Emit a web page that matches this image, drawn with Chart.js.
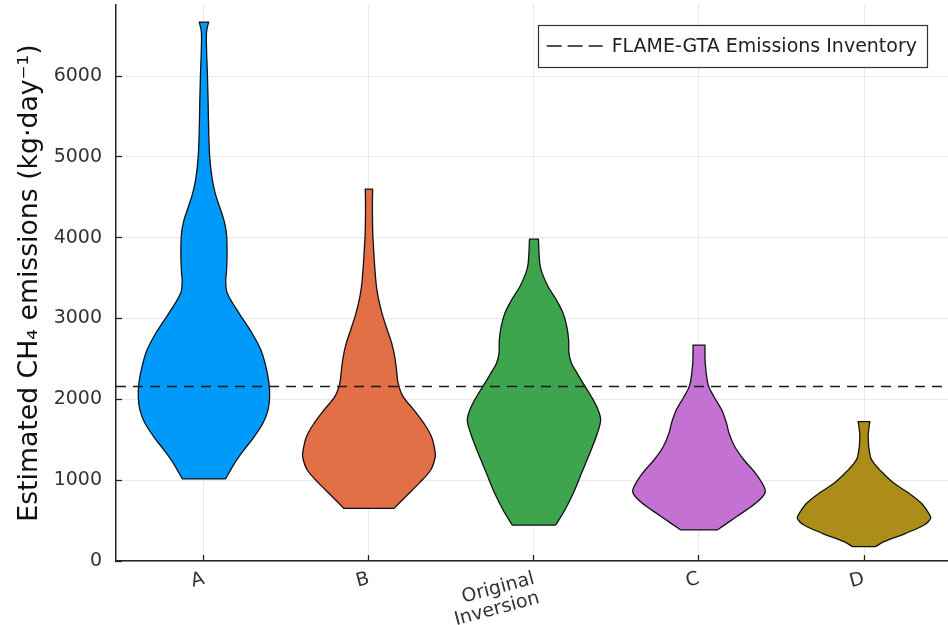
<!DOCTYPE html>
<html>
<head>
<meta charset="utf-8">
<script src="https://cdn.jsdelivr.net/npm/chart.js@4.4.0/dist/chart.umd.min.js"></script>
<style>
  html, body { margin: 0; padding: 0; background: #fff; }
  #wrap { width: 948px; height: 625px; }
</style>
</head>
<body>
<div id="wrap"><canvas id="chart" width="948" height="625"></canvas></div>
<script>
// categories along x, one violin each
const categories = ['A', 'B', ['Original', 'Inversion'], 'C', 'D'];
const colors = ['#009AFA', '#E36F47', '#3EA44E', '#C371D2', '#AC8D18'];
const yTicks = [0, 1000, 2000, 3000, 4000, 5000, 6000];
const inventoryLabel = 'FLAME-GTA Emissions Inventory';
const inventoryValue = 2160;

// violin outlines: emission level (kg/day) and half width of the density at that level
const levelsA = [1015, 1212, 1373, 1534, 1707, 1868, 2029, 2202, 2400, 2610, 2821, 3068, 3316, 3476, 3563, 3811, 4058, 4219, 4380, 4553, 4751, 4998, 5295, 5703, 6013, 6532, 6668];
const widthsA = [0.131, 0.186, 0.242, 0.303, 0.358, 0.388, 0.398, 0.394, 0.376, 0.345, 0.291, 0.212, 0.141, 0.132, 0.136, 0.140, 0.136, 0.121, 0.095, 0.068, 0.048, 0.035, 0.029, 0.025, 0.021, 0.015, 0.028];
const levelsB = [651, 796, 961, 1126, 1290, 1373, 1538, 1703, 1868, 2033, 2198, 2363, 2528, 2693, 2858, 3064, 3270, 3476, 4010, 4343, 4602];
const widthsB = [0.152, 0.222, 0.303, 0.374, 0.402, 0.399, 0.379, 0.333, 0.273, 0.207, 0.177, 0.167, 0.156, 0.138, 0.111, 0.079, 0.055, 0.041, 0.024, 0.021, 0.022];
const levelsOrig = [445, 631, 838, 1085, 1332, 1580, 1744, 1868, 2033, 2198, 2322, 2446, 2569, 2734, 2899, 3064, 3229, 3394, 3559, 3683, 3984];
const widthsOrig = [0.132, 0.187, 0.238, 0.288, 0.338, 0.384, 0.404, 0.389, 0.348, 0.298, 0.262, 0.227, 0.212, 0.210, 0.199, 0.177, 0.136, 0.086, 0.050, 0.035, 0.027];
const levelsC = [384, 548, 714, 837, 919, 1085, 1250, 1414, 1580, 1703, 1868, 2033, 2177, 2446, 2672];
const widthsC = [0.111, 0.227, 0.343, 0.399, 0.394, 0.343, 0.273, 0.217, 0.182, 0.167, 0.138, 0.091, 0.056, 0.038, 0.036];
const levelsD = [177, 239, 343, 445, 528, 590, 714, 838, 961, 1085, 1208, 1290, 1538, 1724];
const widthsD = [0.069, 0.121, 0.253, 0.364, 0.404, 0.392, 0.348, 0.273, 0.182, 0.116, 0.061, 0.038, 0.025, 0.035];

const allLevels = [levelsA, levelsB, levelsOrig, levelsC, levelsD];
const allWidths = [widthsA, widthsB, widthsOrig, widthsC, widthsD];

const xMin = 0.467, xMax = 5.509;

Chart.defaults.font.family = '"DejaVu Sans", sans-serif';

// closed outline: right side going up, left side coming down.
// end levels are listed twice so the flat caps keep sharp corners
function violinPoints(pos, levels, widths) {
    const n = levels.length;
    const right = [], left = [];
    for (let i = 0; i < n; i++) {
        const reps = (i === 0 || i === n - 1) ? 2 : 1;
        for (let r = 0; r < reps; r++) {
            right.push({ x: pos + widths[i], y: levels[i] });
            left.push({ x: pos - widths[i], y: levels[i] });
        }
    }
    const pts = right.concat(left.reverse());
    pts.push(pts[0]);
    return pts;
}

const datasets = [{
    label: inventoryLabel,
    data: [{ x: xMin, y: inventoryValue }, { x: xMax, y: inventoryValue }],
    showLine: true,
    borderColor: '#1a1a1a',
    borderWidth: 1.6,
    borderDash: [10, 7],
    pointRadius: 0,
    fill: false
}];
categories.forEach((c, i) => {
    datasets.push({
        label: Array.isArray(c) ? c.join(' ') : c,
        data: violinPoints(i + 1, allLevels[i], allWidths[i]),
        showLine: true,
        tension: 0.35,
        backgroundColor: colors[i],
        borderColor: '#111',
        borderWidth: 1.3,
        pointRadius: 0,
        fill: 'shape'
    });
});

const insideLegend = {
    id: 'insideLegend',
    afterDraw(chart) {
        const ds = chart.data.datasets[0];
        const ctx = chart.ctx;
        const area = chart.chartArea;
        ctx.save();
        ctx.font = '19px "DejaVu Sans"';
        const textW = ctx.measureText(ds.label).width;
        const h = 42, sample = 56, gap = 9, padL = 9, padR = 10;
        const w = padL + sample + gap + textW + padR;
        const right = area.right - 21;
        const top = area.top + 20;
        const left = right - w;
        ctx.fillStyle = '#fff';
        ctx.fillRect(left, top, w, h);
        ctx.strokeStyle = '#333';
        ctx.lineWidth = 1.2;
        ctx.strokeRect(Math.round(left) + 0.5, top + 0.5, Math.round(w), h);
        ctx.setLineDash([15, 6]);
        ctx.strokeStyle = ds.borderColor;
        ctx.lineWidth = ds.borderWidth;
        ctx.beginPath();
        ctx.moveTo(left + padL, top + h / 2);
        ctx.lineTo(left + padL + sample, top + h / 2);
        ctx.stroke();
        ctx.setLineDash([]);
        ctx.fillStyle = '#222';
        ctx.textBaseline = 'middle';
        ctx.fillText(ds.label, left + padL + sample + gap, top + h / 2 + 1);
        ctx.restore();
    }
};

new Chart(document.getElementById('chart'), {
    type: 'scatter',
    data: { datasets: datasets },
    options: {
        responsive: false,
        animation: false,
        layout: { padding: { top: 5, right: 0, left: 0, bottom: 0 } },
        plugins: { legend: { display: false }, tooltip: { enabled: false } },
        scales: {
            x: {
                type: 'linear',
                min: xMin,
                max: xMax,
                afterBuildTicks: s => { s.ticks = categories.map((_, i) => ({ value: i + 1 })); },
                afterFit: s => { s.height = 64; s.paddingLeft = 0; s.paddingRight = 0; },
                ticks: {
                    callback: v => categories[Math.round(v) - 1],
                    autoSkip: false,
                    minRotation: 15,
                    maxRotation: 15,
                    padding: 14,
                    color: '#333',
                    font: { size: 19, lineHeight: 1.05 }
                },
                grid: { color: '#e9e9e9', lineWidth: 1, tickColor: '#222', tickLength: -6, tickWidth: 1.3 },
                border: { color: '#222', width: 1.5 }
            },
            y: {
                min: 0,
                max: 6880,
                afterBuildTicks: s => { s.ticks = yTicks.map(v => ({ value: v })); },
                afterFit: s => { s.width = 116; s.paddingTop = 0; s.paddingBottom = 0; },
                ticks: { callback: v => String(v), padding: 20, color: '#333', font: { size: 19 } },
                grid: { color: '#e9e9e9', lineWidth: 1, tickColor: '#222', tickLength: -6, tickWidth: 1.3 },
                border: { color: '#222', width: 1.5 },
                title: {
                    display: true,
                    text: 'Estimated CH₄ emissions (kg·day⁻¹)',
                    color: '#111',
                    font: { size: 26.7 },
                    padding: { top: 14, bottom: 0 }
                }
            }
        }
    },
    plugins: [insideLegend]
});
</script>
</body>
</html>
